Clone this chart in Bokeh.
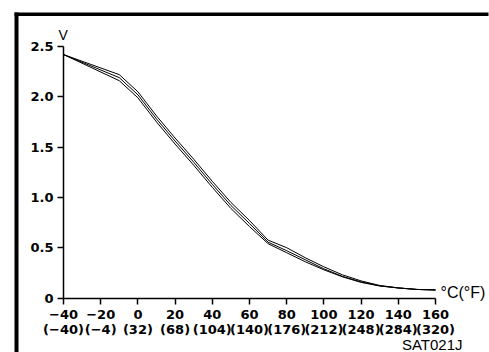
from bokeh.plotting import figure
from bokeh.models import Range1d, FixedTicker, Label, LinearAxis, BoxAnnotation
from bokeh.embed import file_html
from bokeh.resources import INLINE

# Data (temperature in degC, sensor voltage in V)
temp_c = [-40, -10, 0, 10, 20, 30, 40, 50, 60, 70, 80, 90, 100, 110, 120, 130, 140, 150, 160]
v_mid = [2.42, 2.19, 2.02, 1.78, 1.56, 1.35, 1.13, 0.92, 0.74, 0.555, 0.47, 0.38, 0.29, 0.215, 0.16, 0.12, 0.10, 0.085, 0.08]
v_hi = [2.42, 2.22, 2.05, 1.81, 1.59, 1.38, 1.16, 0.95, 0.77, 0.575, 0.50, 0.40, 0.31, 0.23, 0.17, 0.125, 0.10, 0.085, 0.08]
v_lo = [2.42, 2.16, 1.99, 1.75, 1.53, 1.32, 1.10, 0.89, 0.71, 0.54, 0.45, 0.36, 0.28, 0.21, 0.155, 0.12, 0.10, 0.085, 0.08]

x_ticks = [-40, -20, 0, 20, 40, 60, 80, 100, 120, 140, 160]
x_tick_c = ["\u221240", "\u221220", "0", "20", "40", "60", "80", "100", "120", "140", "160"]
x_tick_f = ["(\u221240)", "(\u22124)", "(32)", "(68)", "(104)", "(140)", "(176)", "(212)", "(248)", "(284)", "(320)"]
y_ticks = [0, 0.5, 1.0, 1.5, 2.0, 2.5]
y_tick_labels = ["0", "0.5", "1.0", "1.5", "2.0", "2.5"]
x_min, x_max = -40, 160
y_min, y_max = 0, 2.5

# ---- layout (pixels) ----
W, H = 489, 352            # canvas
AX_X0, AX_X1 = 63, 435     # canvas x of -40 and 160
AX_Y0, AX_Y1 = 297.5, 46   # canvas y of 0 V and 2.5 V
sx = (AX_X1 - AX_X0) / (x_max - x_min)
sy = (AX_Y0 - AX_Y1) / (y_max - y_min)
xr0 = x_min - AX_X0 / sx
xr1 = x_max + (W - AX_X1) / sx
yr1 = y_max + AX_Y1 / sy
yr0 = y_min - (H - AX_Y0) / sy

def cx(px):
    return xr0 + px / sx

def cy(py):
    return yr1 - py / sy

FONT_B = "DejaVu Sans"
FONT_R = "Liberation Sans"

p = figure(width=W, height=H, output_backend="svg", toolbar_location=None,
           x_range=Range1d(xr0, xr1), y_range=Range1d(yr0, yr1),
           x_axis_location=None, y_axis_location=None,
           min_border_left=0, min_border_top=0, min_border_right=0, min_border_bottom=0)
p.outline_line_color = None
p.xgrid.visible = False
p.ygrid.visible = False
p.background_fill_color = "white"
p.border_fill_color = "white"

# outer frame (thick top and left rules)
p.add_layout(BoxAnnotation(left=cx(14), right=cx(488), top=cy(12), bottom=cy(15.5),
                           fill_color="black", fill_alpha=1, line_color=None))
p.add_layout(BoxAnnotation(left=cx(14), right=cx(18), top=cy(12), bottom=cy(H),
                           fill_color="black", fill_alpha=1, line_color=None))

for v in (v_hi, v_mid, v_lo):
    p.line(temp_c, v, line_color="black", line_width=1)

xaxis = LinearAxis(fixed_location=y_min, bounds=(x_min, x_max))
yaxis = LinearAxis(fixed_location=x_min, bounds=(y_min, y_max))
p.add_layout(xaxis, "below")
p.add_layout(yaxis, "left")

xaxis.ticker = FixedTicker(ticks=x_ticks)
xaxis.major_label_overrides = {t: c + "\n" + f for t, c, f in zip(x_ticks, x_tick_c, x_tick_f)}
yaxis.ticker = FixedTicker(ticks=y_ticks)
yaxis.major_label_overrides = {t: l for t, l in zip(y_ticks, y_tick_labels)}

for ax in (xaxis, yaxis):
    ax.axis_line_color = "black"
    ax.axis_line_width = 1.5
    ax.major_tick_line_color = "black"
    ax.major_tick_line_width = 1.5
    ax.major_tick_out = 6
    ax.major_tick_in = 0
    ax.minor_tick_line_color = None
    ax.major_label_text_font = FONT_B
    ax.major_label_text_font_style = "bold"
    ax.major_label_text_font_size = "13px"
    ax.major_label_text_color = "black"
    ax.major_label_text_line_height = 1.0
xaxis.major_label_standoff = 3
yaxis.major_label_standoff = 4

p.add_layout(Label(x=x_min, y=y_max, text="V", x_offset=-5, y_offset=12,
                   text_font=FONT_R, text_font_size="14px", text_baseline="middle",
                   text_align="left", text_color="black"))
p.add_layout(Label(x=x_max, y=y_min, text="\u00b0C(\u00b0F)", x_offset=5, y_offset=6,
                   text_font=FONT_R, text_font_size="16px", text_baseline="middle",
                   text_align="left", text_color="black"))
p.add_layout(Label(x=x_max, y=y_min, text="SAT021J", x_offset=27, y_offset=-46.5,
                   text_font=FONT_R, text_font_size="15px", text_baseline="middle",
                   text_align="right", text_color="black"))

open("out.html", "w").write(file_html(p, INLINE))
